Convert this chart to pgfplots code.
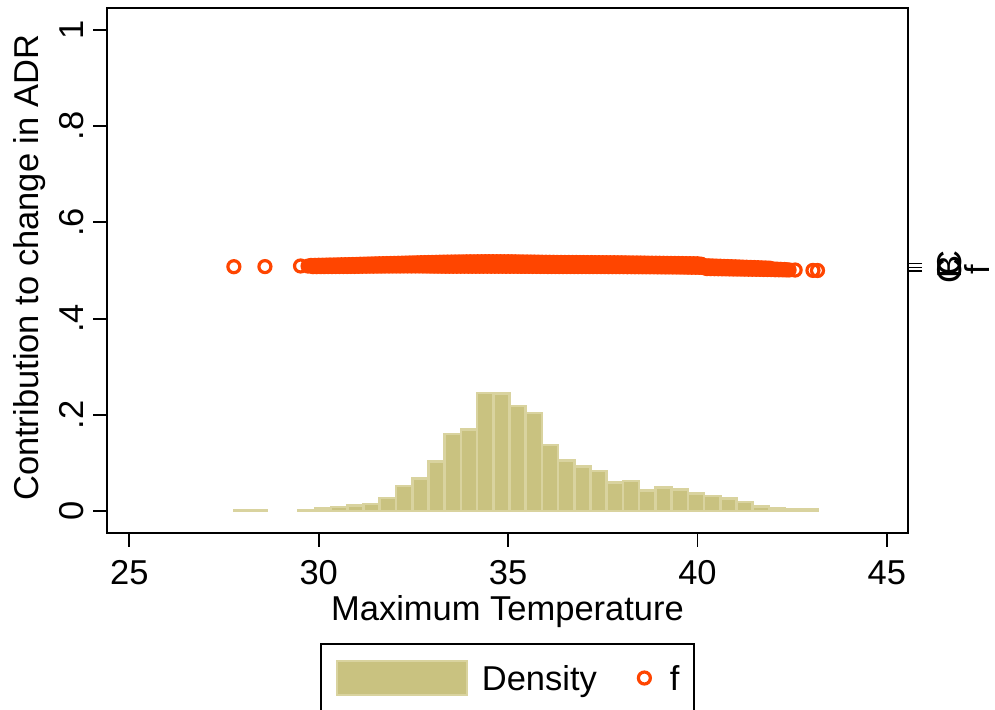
\documentclass[border=0pt]{standalone}
\usepackage{pgfplots}
\pgfplotsset{compat=1.18}
\usepackage{fontspec}
\setmainfont{Liberation Sans}

\definecolor{histfill}{RGB}{201,194,128}
\definecolor{histline}{RGB}{217,211,159}
\definecolor{markred}{RGB}{255,69,0}

\begin{document}
\begin{tikzpicture}[x=1pt,y=1pt,font=\fontsize{34.5}{41}\selectfont]
\useasboundingbox (0,0) rectangle (995,709);

% main axis: histogram of maximum temperature and the contribution f
\begin{axis}[
  at={(107pt,176pt)}, anchor=south west,
  scale only axis, width=801pt, height=525pt,
  xmin=24.41, xmax=45.56, ymin=-0.0457, ymax=1.0457,
  axis line style={line width=1.8pt},
  xtick={25,30,35,40,45}, xticklabels={25,30,35,40,45},
  ytick={0,0.2,0.4,0.6,0.8,1}, yticklabels={0,.2,.4,.6,.8,1},
  xtick pos=left, ytick pos=left,
  tick align=outside, major tick length=14pt,
  every tick/.style={black, line width=1.8pt},
  /pgf/number format/assume math mode=true,
  xticklabel style={anchor=base, yshift=-37.7pt},
  yticklabel style={xshift=-10pt, rotate=90, anchor=base},
  xlabel={Maximum Temperature},
  every axis x label/.style={at={(axis description cs:0.5,-0.167)}, anchor=base},
  ylabel={Contribution to change in ADR},
  every axis y label/.style={at={(axis description cs:-0.0855,0.505)}, rotate=90, anchor=base},
  legend columns=2,
  legend style={at={(0.5,-0.2762)}, anchor=center, draw=black, line width=1.8pt,
    inner xsep=14.8pt, inner ysep=15.8pt,
    nodes={inner sep=0pt, text depth=0pt},
    /tikz/column 1/.style={column sep=13.7pt},
    /tikz/column 2/.style={column sep=41.5pt},
    /tikz/column 3/.style={column sep=19.5pt}},
]

% histogram bins (left edge, density); the last row closes the final bin
\addplot[ybar interval, fill=histfill, draw=histline, line width=2.6pt, forget plot] table {
x y
27.760 0.002
28.188 0.002
28.616 0.002
};
\addplot[ybar interval, fill=histfill, draw=histline, line width=2.6pt,
  legend image code/.code={\draw[fill=histfill, draw=histline, line width=2.6pt] (0pt,-17pt) rectangle (130pt,17pt);}] table {
x y
29.472 0.002
29.900 0.005
30.328 0.008
30.756 0.011
31.184 0.015
31.613 0.027
32.041 0.052
32.469 0.068
32.897 0.103
33.325 0.160
33.753 0.169
34.181 0.245
34.609 0.244
35.037 0.218
35.465 0.204
35.893 0.137
36.321 0.105
36.749 0.092
37.177 0.083
37.605 0.059
38.033 0.062
38.462 0.043
38.890 0.049
39.318 0.045
39.746 0.036
40.174 0.031
40.602 0.026
41.030 0.019
41.458 0.010
41.886 0.005
42.314 0.003
42.742 0.003
43.170 0.003
};
\addlegendentry{Density}

% f against maximum temperature
\addplot[only marks, mark=o, mark size=6pt, draw=markred,
  mark options={line width=3.2pt, draw=markred},
  legend image code/.code={\draw[mark=o, draw=markred, line width=3.2pt, mark size=6pt] plot coordinates {(0pt,0pt)};}] table {
x y
27.76 0.5079
28.58 0.5081
29.52 0.5094
29.72 0.5092
29.80 0.5105
29.85 0.5080
29.90 0.5107
29.95 0.5080
30.00 0.5109
30.05 0.5081
30.10 0.5110
30.15 0.5081
30.20 0.5112
30.25 0.5082
30.30 0.5114
30.35 0.5082
30.40 0.5115
30.45 0.5083
30.50 0.5117
30.55 0.5083
30.60 0.5119
30.65 0.5084
30.70 0.5120
30.75 0.5084
30.80 0.5122
30.85 0.5085
30.90 0.5124
30.95 0.5085
31.00 0.5126
31.05 0.5086
31.10 0.5130
31.15 0.5088
31.20 0.5132
31.25 0.5089
31.30 0.5134
31.35 0.5090
31.40 0.5136
31.45 0.5090
31.50 0.5138
31.55 0.5091
31.60 0.5140
31.65 0.5091
31.70 0.5142
31.75 0.5092
31.80 0.5144
31.85 0.5092
31.90 0.5146
31.95 0.5093
32.00 0.5148
32.05 0.5093
32.10 0.5150
32.15 0.5093
32.20 0.5152
32.25 0.5094
32.30 0.5154
32.35 0.5094
32.40 0.5156
32.45 0.5094
32.50 0.5158
32.55 0.5094
32.60 0.5160
32.65 0.5094
32.70 0.5162
32.75 0.5093
32.80 0.5164
32.85 0.5092
32.90 0.5166
32.95 0.5091
33.00 0.5168
33.05 0.5090
33.10 0.5170
33.15 0.5089
33.20 0.5172
33.25 0.5089
33.30 0.5174
33.35 0.5088
33.40 0.5175
33.45 0.5088
33.50 0.5176
33.55 0.5088
33.60 0.5177
33.65 0.5088
33.70 0.5178
33.75 0.5088
33.80 0.5179
33.85 0.5088
33.90 0.5180
33.95 0.5088
34.00 0.5181
34.05 0.5088
34.10 0.5181
34.15 0.5088
34.20 0.5182
34.25 0.5088
34.30 0.5182
34.35 0.5088
34.40 0.5183
34.45 0.5088
34.50 0.5183
34.55 0.5088
34.60 0.5183
34.65 0.5088
34.70 0.5183
34.75 0.5088
34.80 0.5183
34.85 0.5088
34.90 0.5182
34.95 0.5087
35.00 0.5182
35.05 0.5087
35.10 0.5181
35.15 0.5087
35.20 0.5180
35.25 0.5087
35.30 0.5179
35.35 0.5086
35.40 0.5178
35.45 0.5086
35.50 0.5177
35.55 0.5086
35.60 0.5176
35.65 0.5085
35.70 0.5175
35.75 0.5085
35.80 0.5174
35.85 0.5084
35.90 0.5172
35.95 0.5084
36.00 0.5171
36.05 0.5083
36.10 0.5170
36.15 0.5083
36.20 0.5169
36.25 0.5083
36.30 0.5168
36.35 0.5082
36.40 0.5168
36.45 0.5082
36.50 0.5167
36.55 0.5082
36.60 0.5167
36.65 0.5082
36.70 0.5166
36.75 0.5082
36.80 0.5166
36.85 0.5082
36.90 0.5165
36.95 0.5082
37.00 0.5165
37.05 0.5082
37.10 0.5164
37.15 0.5081
37.20 0.5164
37.25 0.5081
37.30 0.5163
37.35 0.5081
37.40 0.5163
37.45 0.5081
37.50 0.5162
37.55 0.5081
37.60 0.5162
37.65 0.5080
37.70 0.5161
37.75 0.5080
37.80 0.5161
37.85 0.5080
37.90 0.5160
37.95 0.5080
38.00 0.5160
38.05 0.5080
38.10 0.5159
38.15 0.5079
38.20 0.5158
38.25 0.5079
38.30 0.5157
38.35 0.5078
38.40 0.5156
38.45 0.5078
38.50 0.5155
38.55 0.5077
38.60 0.5154
38.65 0.5077
38.70 0.5153
38.75 0.5076
38.80 0.5152
38.85 0.5076
38.90 0.5151
38.95 0.5075
39.00 0.5150
39.05 0.5075
39.10 0.5149
39.15 0.5074
39.20 0.5148
39.25 0.5074
39.30 0.5147
39.35 0.5073
39.40 0.5146
39.45 0.5072
39.50 0.5145
39.55 0.5071
39.60 0.5144
39.65 0.5070
39.70 0.5143
39.75 0.5069
39.80 0.5142
39.85 0.5068
39.90 0.5141
39.95 0.5067
40.00 0.5140
40.05 0.5066
40.10 0.5130
40.15 0.5062
40.20 0.5100
40.25 0.5040
40.30 0.5097
40.35 0.5039
40.40 0.5094
40.45 0.5038
40.50 0.5091
40.55 0.5036
40.60 0.5088
40.65 0.5035
40.70 0.5085
40.75 0.5034
40.80 0.5082
40.85 0.5033
40.90 0.5079
40.95 0.5031
41.00 0.5076
41.05 0.5030
41.10 0.5073
41.15 0.5029
41.20 0.5070
41.25 0.5028
41.30 0.5067
41.35 0.5027
41.40 0.5064
41.45 0.5026
41.50 0.5061
41.55 0.5025
41.60 0.5058
41.65 0.5024
41.70 0.5055
41.75 0.5022
41.80 0.5052
41.85 0.5021
41.90 0.5049
41.95 0.5020
42.00 0.5032
42.05 0.5016
42.10 0.5028
42.15 0.5015
42.20 0.5024
42.25 0.5014
42.30 0.5020
42.35 0.5013
42.42 0.5012
42.58 0.5010
43.05 0.5002
43.17 0.5000
};
\addlegendentry{f}
\end{axis}

% second y axis on the right
\begin{axis}[
  at={(107pt,176pt)}, anchor=south west,
  scale only axis, width=801pt, height=525pt,
  xmin=24.41, xmax=45.56, ymin=-0.0457, ymax=1.0457,
  axis x line=none, axis y line*=right,
  axis line style={line width=1.8pt, -},
  ytick={0.499,0.507,0.515}, yticklabels={C,B,C},
  tick align=outside, major tick length=14pt,
  every tick/.style={black, line width=1.2pt},
  yticklabel style={xshift=39.7pt, rotate=90, anchor=base},
  ylabel={f},
  every axis y label/.style={at={(axis description cs:1.1015,0.501)}, rotate=90, anchor=base},
]
\addplot[draw=none, forget plot] coordinates {(30,0.5)};
\end{axis}
\end{tikzpicture}
\end{document}
